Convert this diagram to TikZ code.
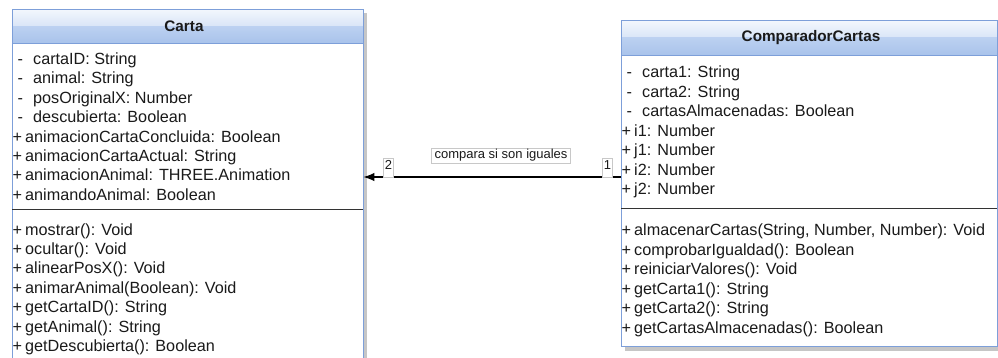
\documentclass[tikz,border=0pt]{standalone}
\usepackage{fontspec}
\setmainfont{Liberation Sans}
\usetikzlibrary{arrows.meta}

\definecolor{umlborder}{HTML}{7D9FD9}
\definecolor{hdA}{HTML}{F3F7FD}
\definecolor{hdB}{HTML}{D9E5F7}
\definecolor{hdC}{HTML}{BCD1F1}
\definecolor{hdD}{HTML}{A9C3EB}
\definecolor{shadowgray}{HTML}{C6C6C6}
\definecolor{rowtext}{HTML}{1A1A1A}
\definecolor{taggray}{HTML}{C8C8C8}
\definecolor{sepline}{HTML}{333333}

% visibility markers of UML members
\newcommand\umlpub[1]{\makebox[11.5pt][l]{\hspace*{-1pt}+}#1}
\newcommand\umlpriv[1]{\hspace*{4pt}\makebox[15.5pt][l]{-}#1}

\begin{document}
\begin{tikzpicture}[x=1pt,y=-1pt,
  row/.style={anchor=base west,inner sep=0pt,font=\fontsize{16.2}{18}\selectfont,text=rowtext},
  title/.style={inner sep=0pt,font=\bfseries\fontsize{15.3}{18}\selectfont,text=rowtext},
  tag/.style={draw=taggray,fill=white,inner xsep=1.2pt,inner ysep=1.5pt,
    font=\fontsize{13}{15}\selectfont,text=rowtext},
  classbox/.style={fill=white,inner sep=0pt,anchor=north west},
  frame/.style={draw=umlborder,line width=1pt},
  divider/.style={draw=sepline,line width=1pt}]
\clip (0,0) rectangle (998,357);
\fill[white] (0,0) rectangle (998,357);

% drop shadows
\fill[shadowgray] (16,13) rectangle (367,380);
\fill[shadowgray] (625,25) rectangle (1002,351);

% class bodies
\node[classbox,minimum width=351pt,minimum height=380pt] (carta) at (12,9) {};
\node[classbox,minimum width=376pt,minimum height=326pt] (comp) at (621,20) {};

% glossy header bands
\shade[top color=hdA,bottom color=hdB] (12,9) rectangle (363,26);
\shade[top color=hdC,bottom color=hdD] (12,26) rectangle (363,43);
\draw[frame] (12,43) -- (363,43);
\shade[top color=hdA,bottom color=hdB] (621,20) rectangle (997,37.5);
\shade[top color=hdC,bottom color=hdD] (621,37.5) rectangle (997,55);
\draw[frame] (621,55) -- (997,55);

% outlines
\draw[frame] (carta.north west) rectangle (carta.south east);
\draw[frame] (comp.north west) rectangle (comp.south east);

% attribute / operation dividers
\draw[divider] (12,209) -- (363,209);
\draw[divider] (621,208) -- (997,208);

% class names
\node[title] (carta-title) at (184,26) {Carta};
\node[title] (comp-title) at (811,38) {ComparadorCartas};

% Carta attributes
\foreach \t [count=\i from 0] in {
  {\umlpriv{cartaID: String}},
  {\umlpriv{animal: String}},
  {\umlpriv{posOriginalX: Number}},
  {\umlpriv{descubierta: Boolean}},
  {\umlpub{animacionCartaConcluida: Boolean}},
  {\umlpub{animacionCartaActual: String}},
  {\umlpub{animacionAnimal: THREE.Animation}},
  {\umlpub{animandoAnimal: Boolean}}}
  \node[row] (carta-a\i) at (13.5,{64.5+19.4*\i}) {\t};

% Carta operations
\foreach \t [count=\i from 0] in {
  {\umlpub{mostrar(): Void}},
  {\umlpub{ocultar(): Void}},
  {\umlpub{alinearPosX(): Void}},
  {\umlpub{animarAnimal(Boolean): Void}},
  {\umlpub{getCartaID(): String}},
  {\umlpub{getAnimal(): String}},
  {\umlpub{getDescubierta(): Boolean}}}
  \node[row] (carta-m\i) at (13.5,{235+19.45*\i}) {\t};

% ComparadorCartas attributes
\foreach \t [count=\i from 0] in {
  {\umlpriv{carta1: String}},
  {\umlpriv{carta2: String}},
  {\umlpriv{cartasAlmacenadas: Boolean}},
  {\umlpub{i1: Number}},
  {\umlpub{j1: Number}},
  {\umlpub{i2: Number}},
  {\umlpub{j2: Number}}}
  \node[row] (comp-a\i) at (622.5,{77.5+19.5*\i}) {\t};

% ComparadorCartas operations
\foreach \t [count=\i from 0] in {
  {\umlpub{almacenarCartas(String, Number, Number): Void}},
  {\umlpub{comprobarIgualdad(): Boolean}},
  {\umlpub{reiniciarValores(): Void}},
  {\umlpub{getCarta1(): String}},
  {\umlpub{getCarta2(): String}},
  {\umlpub{getCartasAlmacenadas(): Boolean}}}
  \node[row] (comp-m\i) at (622.5,{235.5+19.6*\i}) {\t};

% association
\coordinate (assocy) at (0,177);
\draw[line width=1.2pt,-{Latex[length=11pt,width=8.5pt]}]
  (comp.west |- assocy) -- (carta.east |- assocy);
\node[tag,inner xsep=3pt] (assoc-label) at (501,155.5) {compara si son iguales};
\node[tag,anchor=north,text height=9.5pt,text depth=6pt] (end-carta) at (388.5,158) {2};
\node[tag,anchor=north,text height=9.5pt,text depth=6pt] (end-comp) at (607.5,158) {1};
\end{tikzpicture}
\end{document}
